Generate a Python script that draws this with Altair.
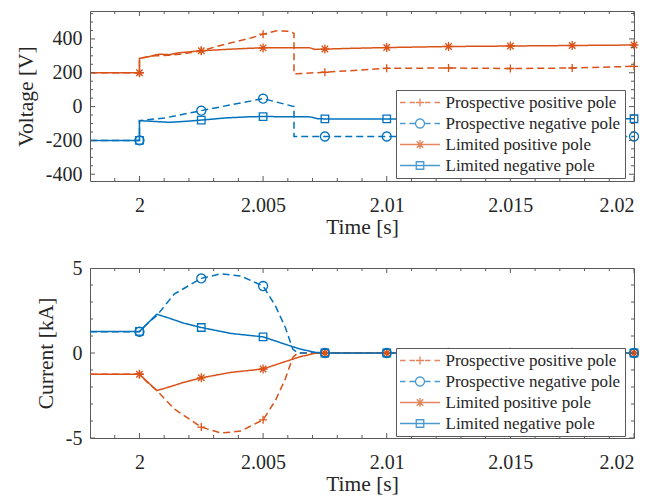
import math
import altair as alt
import pandas as pd

ORANGE = "#D95319"
BLUE = "#0072BD"
FRAME = "#5a5a5a"
TEXT = "#262626"
FONT = "Liberation Serif"

series_names = ["Prospective positive pole", "Prospective negative pole",
                "Limited positive pole", "Limited negative pole"]
series_colors = [ORANGE, BLUE, ORANGE, BLUE]
series_dash = [[7, 4], [7, 4], [1, 0], [1, 0]]

marker_times = [2.0, 2.0025, 2.005, 2.0075, 2.01, 2.0125, 2.015, 2.0175, 2.02]

# ---------------- Voltage panel ----------------
t_pp_v = [1.998, 2.0, 2.0, 2.0006, 2.0012, 2.0018, 2.0025, 2.0035, 2.0045, 2.005, 2.00555, 2.0061,
          2.00625, 2.00625, 2.0075, 2.01, 2.0125, 2.015, 2.0175, 2.02]
v_pp_v = [200, 200, 285, 300, 303, 312, 330, 370, 405, 428, 448, 445,
          432, 193, 203, 226, 228, 225, 228, 238]

t_pn_v = [1.998, 2.0, 2.0, 2.001, 2.0025, 2.00375, 2.005, 2.00625, 2.00625,
          2.0075, 2.01, 2.0125, 2.015, 2.0175, 2.02]
v_pn_v = [-200, -200, -83, -68, -24, 12, 47, 0, -177,
          -177, -177, -177, -177, -177, -177]

t_lp_v = [1.998, 2.0, 2.0, 2.0004, 2.0008, 2.0012, 2.0016, 2.0025, 2.0035, 2.0045, 2.005, 2.006,
          2.0069, 2.0071, 2.0075, 2.0085, 2.01, 2.0125, 2.015, 2.0175, 2.02]
v_lp_v = [200, 200, 285, 296, 310, 307, 318, 330, 338, 345, 347, 348,
          347, 338, 340, 344, 349, 355, 358, 361, 364]

t_ln_v = [1.998, 2.0, 2.0, 2.0006, 2.0012, 2.0018, 2.0025, 2.0035, 2.0045, 2.005, 2.006, 2.0069,
          2.0072, 2.0075, 2.01, 2.0125, 2.015, 2.0175, 2.02]
v_ln_v = [-200, -200, -83, -88, -93, -88, -80, -67, -60, -59, -60, -61,
          -72, -73, -73, -72, -72, -72, -72]

# ---------------- Current panel ----------------
t_pp_i = [1.998, 2.0, 2.0003, 2.0007, 2.0014, 2.0025, 2.0033, 2.0041, 2.005, 2.0055, 2.0059,
          2.0062, 2.0064, 2.0075, 2.01, 2.0125, 2.015, 2.0175, 2.02]
i_pp_i = [-1.25, -1.25, -1.7, -2.2, -3.28, -4.36, -4.71, -4.59, -3.93, -2.79, -1.52,
          -0.26, 0, 0, 0, 0, 0, 0, 0]

t_pn_i = [1.998, 2.0, 2.0003, 2.0007, 2.0014, 2.0025, 2.0033, 2.0041, 2.005, 2.0055, 2.0059,
          2.0062, 2.0064, 2.0075, 2.01, 2.0125, 2.015, 2.0175, 2.02]
i_pn_i = [1.25, 1.25, 1.7, 2.2, 3.46, 4.39, 4.66, 4.53, 3.94, 2.77, 1.5,
          0.23, 0, 0, 0, 0, 0, 0, 0]

t_lp_i = [1.998, 2.0, 2.0007, 2.0012, 2.0018, 2.0025, 2.0037, 2.005, 2.0058, 2.0065, 2.0071,
          2.0075, 2.01, 2.0125, 2.015, 2.0175, 2.02]
i_lp_i = [-1.25, -1.25, -2.21, -2.0, -1.72, -1.46, -1.14, -0.94, -0.55, -0.22, -0.02,
          0, 0, 0, 0, 0, 0]

t_ln_i = [1.998, 2.0, 2.0007, 2.0012, 2.0018, 2.0025, 2.0037, 2.005, 2.0058, 2.0065, 2.0071,
          2.0075, 2.01, 2.0125, 2.015, 2.0175, 2.02]
i_ln_i = [1.27, 1.27, 2.28, 2.05, 1.75, 1.5, 1.15, 0.95, 0.56, 0.23, 0.04,
          0, 0, 0, 0, 0, 0]

# ---------------- axes ticks ----------------
x_domain = [1.998, 2.02]
x_major = [2.0, 2.005, 2.01, 2.015, 2.02]
x_minor = [round(1.999 + 0.001 * k, 3) for k in range(21)]
x_minor = [v for v in x_minor if all(abs(v - m) > 1e-9 for m in x_major)]

v_domain = [-440, 565]
v_major = [-400, -200, 0, 200, 400]
v_minor = [v for v in range(-400, 551, 50) if v not in v_major]

i_domain = [-5, 5]
i_major = [-5, 0, 5]
i_minor = [-4, -3, -2, -1, 1, 2, 3, 4]

W, H = 544, 170


def poly_circle(r, n=20):
    pts = [(r * math.cos(2 * math.pi * k / n), r * math.sin(2 * math.pi * k / n)) for k in range(n)]
    return "M" + "L".join(f"{x:.3f},{y:.3f}" for x, y in pts) + "Z"


def plus(r):
    return f"M{-r},0L{r},0M0,{-r}L0,{r}"


def star(r):
    d = r * 0.72
    return f"M{-r},0L{r},0M0,{-r}L0,{r}M{-d},{-d}L{d},{d}M{-d},{d}L{d},{-d}"


def square(r):
    return f"M{-r},{-r}L{r},{-r}L{r},{r}L{-r},{r}Z"


# unit = 5 px (point size 100)
marker_paths = [plus(0.8), poly_circle(0.9), star(0.9), square(0.75)]

dashed = "M-4,0L-2.9,0M-2.1,0L-1.0,0M1.0,0L2.1,0M2.9,0L4,0"
solid = "M-4,0L4,0"
legend_paths = [dashed + plus(0.8), dashed + poly_circle(0.9),
                solid + star(0.9), solid + square(0.75)]


def build(curves):
    rows = []
    for name, (ts, vs) in zip(series_names, curves):
        for k, (t, v) in enumerate(zip(ts, vs)):
            rows.append({"series": name, "t": t, "v": v, "k": k})
    df = pd.DataFrame(rows)
    mt = [round(m, 6) for m in marker_times]
    mk = df[df["t"].round(6).isin(mt)].drop_duplicates(["series", "t"], keep="first")
    return df, mk


def panel(curves, ydomain, ymajor, yminor, ytitle, legend_y):
    df, mk = build(curves)
    xs = alt.Scale(domain=x_domain, nice=False, zero=False)
    ys = alt.Scale(domain=ydomain, nice=False, zero=False)
    xaxis = alt.Axis(values=x_major, labelExpr="'' + datum.value", title="Time [s]",
                     ticks=False, tickSize=0, domain=False, grid=False,
                     labelPadding=14, titlePadding=1,
                     labelFont=FONT, labelFontSize=20, labelColor=TEXT,
                     titleFont=FONT, titleFontSize=21.5, titleFontWeight="normal",
                     titleColor=TEXT)
    yaxis = alt.Axis(values=ymajor, labelExpr="'' + datum.value", title=ytitle,
                     ticks=False, tickSize=0, domain=False, grid=False,
                     labelPadding=8, titlePadding=8,
                     labelFont=FONT, labelFontSize=20, labelColor=TEXT,
                     titleFont=FONT, titleFontSize=21.5, titleFontWeight="normal",
                     titleColor=TEXT)
    cscale = alt.Scale(domain=series_names, range=series_colors)

    lines = alt.Chart(df).mark_line(strokeWidth=1.5, clip=True).encode(
        x=alt.X("t:Q", scale=xs, axis=xaxis),
        y=alt.Y("v:Q", scale=ys, axis=yaxis),
        color=alt.Color("series:N", scale=cscale, legend=None),
        strokeDash=alt.StrokeDash("series:N",
                                  scale=alt.Scale(domain=series_names, range=series_dash),
                                  legend=None),
        detail="series:N",
        order="k:Q",
    )
    markers = alt.Chart(mk).mark_point(filled=False, size=100, strokeWidth=1.3, opacity=1).encode(
        x=alt.X("t:Q", scale=xs),
        y=alt.Y("v:Q", scale=ys),
        color=alt.Color("series:N", scale=cscale, legend=None),
        shape=alt.Shape("series:N", scale=alt.Scale(domain=series_names, range=marker_paths),
                        legend=None),
    )
    leg_def = alt.Legend(
        title=None, orient="none", legendX=306, legendY=legend_y,
        fillColor="white", strokeColor=FRAME, padding=4, rowPadding=3,
        labelFont=FONT, labelFontSize=17, labelColor=TEXT, labelOffset=17, labelLimit=400,
        symbolSize=100, symbolOffset=11.5, symbolStrokeWidth=1.3,
        symbolFillColor="transparent", zindex=1,
    )
    leg_df = pd.DataFrame({"series": series_names, "t": [float("nan")] * 4,
                           "v": [float("nan")] * 4})
    legend = alt.Chart(leg_df).mark_point(filled=False, size=100).encode(
        x=alt.X("t:Q", scale=xs),
        y=alt.Y("v:Q", scale=ys),
        color=alt.Color("series:N", scale=cscale, legend=leg_def),
        shape=alt.Shape("series:N", scale=alt.Scale(domain=series_names, range=legend_paths),
                        legend=leg_def),
    )

    xt = pd.DataFrame({"p": x_major + x_minor, "L": [10] * len(x_major) + [6] * len(x_minor)})
    yt = pd.DataFrame({"p": ymajor + yminor, "L": [10] * len(ymajor) + [6] * len(yminor)})
    ticks = []
    for yv in (0, H):
        ticks.append(alt.Chart(xt).mark_tick(orient="vertical", clip=True, thickness=1,
                                             color=FRAME, opacity=1).encode(
            x=alt.X("p:Q", scale=xs), y=alt.value(yv),
            size=alt.Size("L:Q", scale=None, legend=None)))
    for xv in (0, W):
        ticks.append(alt.Chart(yt).mark_tick(orient="horizontal", clip=True, thickness=1,
                                             color=FRAME, opacity=1).encode(
            y=alt.Y("p:Q", scale=ys), x=alt.value(xv),
            size=alt.Size("L:Q", scale=None, legend=None)))

    return alt.layer(lines, markers, *ticks, legend).resolve_scale(
        color="independent", shape="independent", strokeDash="independent", size="independent"
    ).properties(width=W, height=H)


top = panel([(t_pp_v, v_pp_v), (t_pn_v, v_pn_v), (t_lp_v, v_lp_v), (t_ln_v, v_ln_v)],
            v_domain, v_major, v_minor, "Voltage [V]", 79)
bottom = panel([(t_pp_i, i_pp_i), (t_pn_i, i_pn_i), (t_lp_i, i_lp_i), (t_ln_i, i_ln_i)],
               i_domain, i_major, i_minor, "Current [kA]", 80)

chart = alt.vconcat(top, bottom, spacing=19).properties(
    padding={"left": 6, "top": 2, "right": 4, "bottom": 0}
).configure_view(stroke=FRAME, strokeWidth=1)

chart.save("out.html", embed_options={"renderer": "svg", "actions": False})
